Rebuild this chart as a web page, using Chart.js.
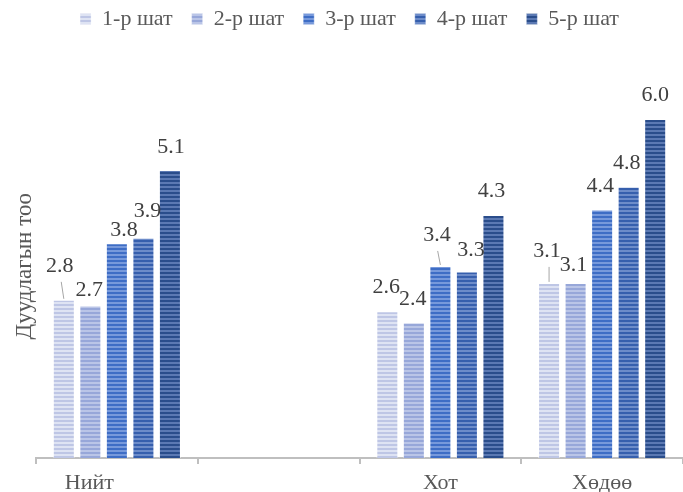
<!DOCTYPE html>
<html><head><meta charset="utf-8">
<script src="https://cdn.jsdelivr.net/npm/chart.js@4"></script>
<style>html,body{margin:0;padding:0;background:#fff;}</style>
</head><body>
<canvas id="c" width="683" height="492"></canvas>
<script>
// ---- data ----
const categories = ['Нийт', '', 'Хот', 'Хөдөө'];
const seriesNames = ['1-р шат', '2-р шат', '3-р шат', '4-р шат', '5-р шат'];
const stage1 = [2.8, null, 2.6, 3.1];
const stage2 = [2.7, null, 2.4, 3.1];
const stage3 = [3.8, null, 3.4, 4.4];
const stage4 = [3.9, null, 3.3, 4.8];
const stage5 = [5.1, null, 4.3, 6.0];
const yTitle = 'Дуудлагын тоо';

// ---- styles ----
const stripeColors = [
  ['#BEC6E5', '#DEE3F3'],
  ['#97A7D9', '#BAC5E7'],
  ['#3E6DC5', '#7799DB'],
  ['#365FAD', '#6D8CC9'],
  ['#2A4D8B', '#5B79B3']
];
const labelOffsets = [
  [[-4, -34], [0, 0], [-1, -24], [-2, -32]],
  [[-1, -15], [0, 0], [-1, -23], [-2, -18]],
  [[7, -13], [0, 0], [-3.5, -31], [-2, -23]],
  [[4, -26], [0, 0], [4, -21.5], [-2, -24]],
  [[1, -23], [0, 0], [-2, -23.5], [0, -23.5]]
];
// [series, category, leader start x offset from bar centre]
const leaders = [[0, 0, -2.6], [2, 2, -2.7], [0, 3, 0]];
const FONT = '"Liberation Serif", "Times New Roman", serif';

function stripes(dark, light) {
  const c = document.createElement('canvas');
  c.width = 4; c.height = 4;
  const x = c.getContext('2d');
  x.fillStyle = light; x.fillRect(0, 0, 4, 4);
  x.fillStyle = dark; x.fillRect(0, 0, 4, 2);
  return x.createPattern(c, 'repeat');
}

const seriesData = [stage1, stage2, stage3, stage4, stage5];
const datasets = seriesData.map((d, i) => ({
  label: seriesNames[i],
  data: d,
  backgroundColor: stripes(stripeColors[i][0], stripeColors[i][1]),
  borderColor: 'rgba(255,255,255,0.45)',
  borderWidth: {left: 1, right: 1, top: 1, bottom: 0},
  borderSkipped: false,
  categoryPercentage: 0.82,
  barPercentage: 0.83
}));

const labelPlugin = {
  id: 'vals',
  afterDatasetsDraw(chart) {
    const ctx = chart.ctx;
    ctx.save();
    ctx.font = '22px ' + FONT;
    ctx.fillStyle = '#404040';
    ctx.textAlign = 'center';
    ctx.textBaseline = 'middle';
    chart.data.datasets.forEach((ds, i) => {
      const meta = chart.getDatasetMeta(i);
      meta.data.forEach((bar, j) => {
        const v = ds.data[j];
        if (v == null) return;
        const [dx, dy] = labelOffsets[i][j];
        const lx = bar.x + dx, ly = bar.y + dy;
        ctx.fillText(v.toFixed(1), lx, ly);
        const ld = leaders.find(([a, b]) => a === i && b === j);
        if (ld) {
          ctx.strokeStyle = '#A6A6A6';
          ctx.lineWidth = 1;
          ctx.beginPath();
          ctx.moveTo(bar.x + ld[2], ly + 16);
          ctx.lineTo(bar.x, bar.y - 1);
          ctx.stroke();
        }
      });
    });
    ctx.restore();
  }
};

new Chart(document.getElementById('c'), {
  type: 'bar',
  data: {labels: categories, datasets},
  plugins: [labelPlugin],
  options: {
    responsive: false,
    animation: false,
    devicePixelRatio: 1,
    layout: {padding: {top: -11, left: 15, right: -1, bottom: 0}},
    plugins: {
      tooltip: {enabled: false},
      legend: {
        position: 'top',
        labels: {
          font: {family: FONT, size: 22},
          color: '#595959',
          boxWidth: 11,
          boxHeight: 11,
          padding: 19
        }
      }
    },
    scales: {
      x: {
        afterFit(s) { s.height = 34; },
        grid: {display: true, drawOnChartArea: false, drawTicks: true, tickLength: 6, color: '#BFBFBF', lineWidth: 2, offset: true},
        border: {display: true, color: '#BFBFBF', width: 2},
        ticks: {
          autoSkip: false, maxRotation: 0,
          padding: 6,
          color: '#595959',
          font: {family: FONT, size: 22},
          callback: (v, i) => i === 0 ? categories[0] + ' '.repeat(10) : categories[i]
        }
      },
      y: {
        min: 0, max: 7.4,
        afterFit(s) { s.width = 21; },
        grid: {display: false},
        border: {display: false},
        ticks: {display: false},
        title: {
          display: true,
          text: yTitle + ' '.repeat(6),
          color: '#595959',
          font: {family: FONT, size: 23},
          padding: {top: -4, bottom: 0}
        }
      }
    }
  }
});
</script>
</body></html>
